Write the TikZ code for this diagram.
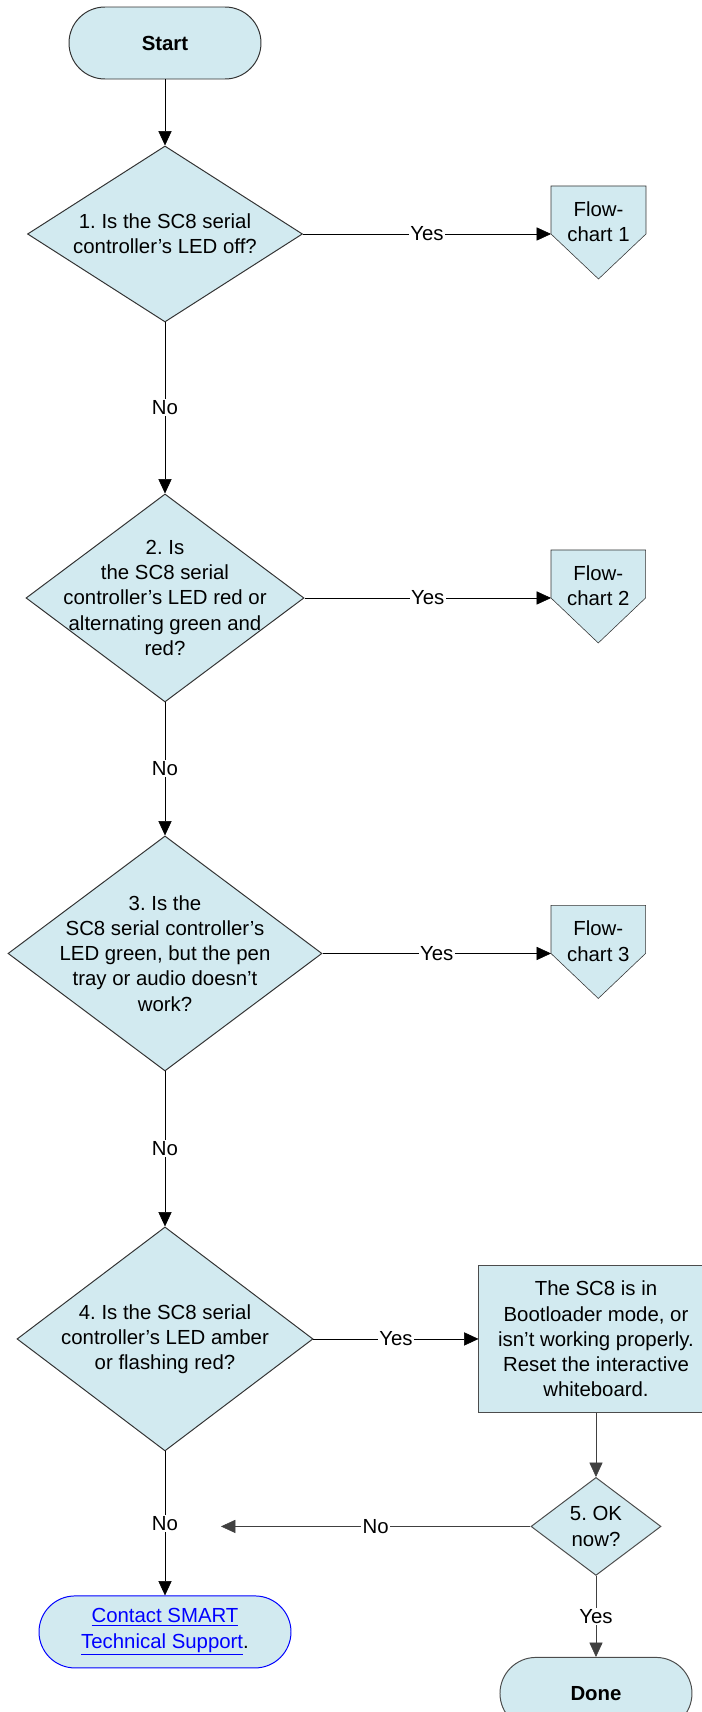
\documentclass[tikz,border=0pt]{standalone}
\usepackage{fontspec}
\setmainfont{Liberation Sans}
\usetikzlibrary{positioning}
\usetikzlibrary{calc}
\usetikzlibrary{shapes.geometric}
\usetikzlibrary{arrows.meta}
\definecolor{chartfill}{RGB}{210,234,240}
\definecolor{linkblue}{RGB}{0,0,255}
\frenchspacing
\newcommand{\chartfont}{\fontsize{14.5}{17.9}\selectfont}
\newcommand{\weblink}[1]{\textcolor{linkblue}{\underline{#1}}}
\tikzset{
    % Filled triangle tips, as on the original chart
    >={Triangle[length=3.6mm, width=3.3mm]},
%
    % Rounded start and end boxes
    terminal/.style={draw=black!80, fill=chartfill, rounded corners=9mm,
        minimum width=48mm, minimum height=18mm, inner sep=0, align=center},
%
    % Question diamonds, the text sits in a centred label so it can
    % run over the outline
    decision/.style={draw=black!80, fill=chartfill, diamond, inner sep=0},
%
    % Plain action box
    process/.style={draw=black!70, fill=chartfill, align=center,
        minimum width=58.5mm, minimum height=36.75mm},
%
    % Words on the connectors
    answer/.style={fill=white, inner sep=1pt},
    flow/.style={->}}
\pgfdeclarelayer{background}
\pgfsetlayers{background,main}
\begin{document}
\begin{tikzpicture}[font=\chartfont, line width=0.7pt,
    every label/.style={align=center}]
\useasboundingbox (0,0) rectangle (175.5mm,-428mm);

% Draws an off-page reference #1 level with question #2, with text #3
\newcommand{\offpage}[3]{
\node [align=center, anchor=north west, minimum width=23.5mm,
    minimum height=17.75mm, inner sep=0]
    (#1) at ($(137.75mm,0 |- #2)+(0,12mm)$) {#3};
\coordinate (#1 in) at ($(#1.north west)+(0,-12mm)$);
\begin{pgfonlayer}{background}
\draw [draw=black!80, fill=chartfill] (#1.north west) -- (#1.north east)
    -- ++(0,-12mm) -- ($(#1.north)+(0,-23.25mm)$) -- (#1 in) -- cycle;
\end{pgfonlayer}
}

% Main column of questions
\node [terminal, font=\chartfont\bfseries] (start) at (41.25mm,-10.75mm)
    {Start};
\node [decision, below=16.5mm of start,
    minimum width=68.75mm, minimum height=44mm,
    label={center:{1. Is the SC8 serial\\controller’s LED off?}}] (q1) {};
\node [decision, below=42.75mm of q1,
    minimum width=69.5mm, minimum height=52mm,
    label={center:{2. Is\\the SC8 serial\\controller’s LED red or\\alternating
        green and\\red?}}] (q2) {};
\node [decision, below=33.25mm of q2,
    minimum width=78.5mm, minimum height=58.75mm,
    label={center:{3. Is the\\SC8 serial controller’s\\LED green, but the
        pen\\tray or audio doesn’t\\work?}}] (q3) {};
\node [decision, below=38.75mm of q3,
    minimum width=74mm, minimum height=56mm,
    label={center:{4. Is the SC8 serial\\controller’s LED amber\\or
        flashing red?}}] (q4) {};
\node [terminal, draw=linkblue, minimum width=63mm, below=36mm of q4]
    (contact) {\weblink{Contact SMART}\\\weblink{Technical Support}.};

% Reset branch
\node [process, right=41.25mm of q4] (reset)
    {The SC8 is in\\Bootloader mode, or\\isn’t working properly.\\Reset the
    interactive\\whiteboard.};
\node [decision, draw=black!70, below=16mm of reset,
    minimum width=32.5mm, minimum height=24.5mm,
    label={center:{5. OK\\now?}}] (q5) {};
\node [terminal, draw=black!70, font=\chartfont\bfseries,
    below=20.25mm of q5] (done) {Done};
\coordinate (give up) at (55.25mm,0 |- q5);

% Other flowcharts
\offpage{chart1}{q1}{Flow-\\chart 1}
\offpage{chart2}{q2}{Flow-\\chart 2}
\offpage{chart3}{q3}{Flow-\\chart 3}

\draw [flow] (start) -- (q1);
\draw [flow] (q1) -- node [answer] {No} (q2);
\draw [flow] (q2) -- node [answer] {No} (q3);
\draw [flow] (q3) -- node [answer] {No} (q4);
\draw [flow] (q4) -- node [answer] {No} (contact);
\draw [flow] (q1) -- node [answer] {Yes} (chart1 in);
\draw [flow] (q2) -- node [answer] {Yes} (chart2 in);
\draw [flow] (q3) -- node [answer] {Yes} (chart3 in);
\draw [flow] (q4) -- node [answer] {Yes} (reset);
\draw [flow, black!75] (reset) -- (q5);
\draw [flow, black!75] (q5) -- node [answer, text=black] {No} (give up);
\draw [flow, black!75] (q5) -- node [answer, text=black] {Yes} (done);

\end{tikzpicture}
\end{document}
